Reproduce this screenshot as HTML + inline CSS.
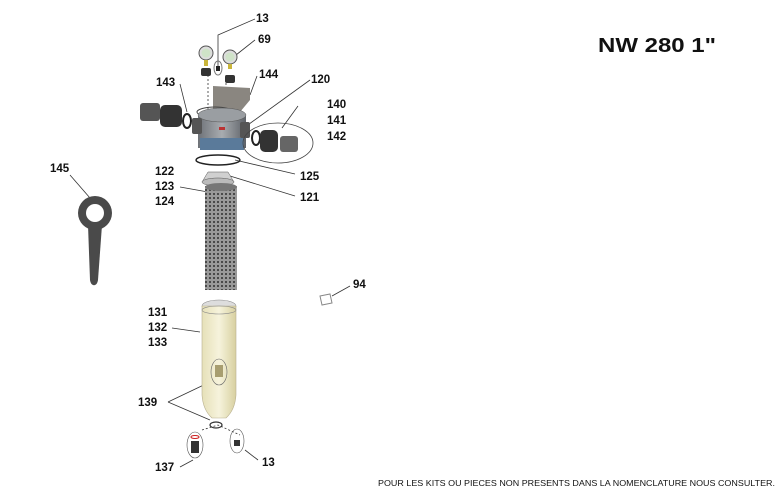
<!DOCTYPE html>
<html><head><meta charset="utf-8"><style>
body{margin:0;background:#fff}
svg{display:block}
text{font-family:"Liberation Sans",sans-serif;font-weight:bold;font-size:11.5px;fill:#111}
</style></head><body>
<svg width="783" height="499" viewBox="0 0 783 499" xmlns="http://www.w3.org/2000/svg">
<defs>
<pattern id="mesh" width="4" height="4" patternUnits="userSpaceOnUse">
<rect width="4" height="4" fill="#9a9a9a"/><rect x="1" y="1" width="2" height="2" fill="#4a4a4a"/>
</pattern>
<linearGradient id="bowl" x1="0" x2="1"><stop offset="0" stop-color="#e6e0b8"/><stop offset=".5" stop-color="#f6f3dc"/><stop offset="1" stop-color="#d8d0a0"/></linearGradient>
<linearGradient id="head" x1="0" x2="1"><stop offset="0" stop-color="#6e7278"/><stop offset=".5" stop-color="#a8acb0"/><stop offset="1" stop-color="#5e6268"/></linearGradient>
</defs>
<text x="598" y="52" style="font-size:20px" textLength="118" lengthAdjust="spacingAndGlyphs">NW 280 1"</text>
<text x="378" y="486" style="font-size:8.5px;font-weight:normal" textLength="397" lengthAdjust="spacingAndGlyphs">POUR LES KITS OU PIECES NON PRESENTS DANS LA NOMENCLATURE NOUS CONSULTER.</text>

<g fill="none" stroke="#333" stroke-width="0.8">
<path d="M255 19 L218 35 L218 70"/>
<path d="M255 40 L236 55"/>
<path d="M257 76 L250 95"/>
<path d="M180 84 L187 112"/>
<path d="M310 80 L245 127"/>
<path d="M298 106 L282 128"/>
<path d="M295 174 L235 160"/>
<path d="M295 196 L230 176"/>
<path d="M180 187 L208 192"/>
<path d="M70 175 L90 198"/>
<path d="M350 286 L332 296"/>
<path d="M172 328 L200 332"/>
<path d="M168 402 L210 382 M168 402 L210 420"/>
<path d="M180 467 L193 460"/>
<path d="M258 460 L245 450"/>
<path d="M202 430 L218 425 L240 435" stroke-dasharray="2,2"/>
<path d="M208 75 L208 110 M226 75 L226 110" stroke-dasharray="2,2"/>
</g>

<circle cx="206" cy="53" r="7" fill="#ddd" stroke="#555"/><circle cx="206" cy="53" r="4.5" fill="#cfe3c8"/>
<circle cx="230" cy="57" r="7" fill="#ddd" stroke="#555"/><circle cx="230" cy="57" r="4.5" fill="#cfe3c8"/>
<rect x="204" y="60" width="4" height="6" fill="#c9b53a"/><rect x="228" y="64" width="4" height="5" fill="#c9b53a"/>
<rect x="201" y="68" width="10" height="8" rx="2" fill="#333"/><rect x="225" y="75" width="10" height="8" rx="2" fill="#333"/>
<ellipse cx="218" cy="68" rx="4" ry="7" fill="none" stroke="#777"/><rect x="216" y="66" width="4" height="5" fill="#222"/>
<path d="M213 86 L250 88 L250 100 L240 112 L213 110 Z" fill="#8a8680"/>
<ellipse cx="215" cy="112" rx="18" ry="5" fill="none" stroke="#444"/>
<rect x="198" y="115" width="48" height="33" fill="url(#head)"/>
<ellipse cx="222" cy="115" rx="24" ry="7" fill="#9a9ea2" stroke="#555" stroke-width=".5"/>
<rect x="200" y="138" width="44" height="12" fill="#5a7a9a"/>
<rect x="192" y="118" width="10" height="16" rx="2" fill="#555"/>
<rect x="240" y="122" width="10" height="16" rx="2" fill="#555"/>
<rect x="219" y="127" width="6" height="3" fill="#b33"/>
<rect x="140" y="103" width="20" height="18" rx="3" fill="#555"/>
<rect x="160" y="105" width="22" height="22" rx="5" fill="#333"/>
<ellipse cx="187" cy="121" rx="4" ry="7" fill="none" stroke="#222" stroke-width="2"/>
<ellipse cx="278" cy="143" rx="35" ry="20" fill="none" stroke="#444" stroke-width=".8"/>
<ellipse cx="256" cy="138" rx="4" ry="7" fill="none" stroke="#222" stroke-width="2"/>
<rect x="260" y="130" width="18" height="22" rx="5" fill="#333"/>
<rect x="280" y="136" width="18" height="16" rx="3" fill="#666"/>
<ellipse cx="218" cy="160" rx="22" ry="5" fill="none" stroke="#222" stroke-width="1.5"/>
<path d="M208 172 L228 172 L234 182 L202 182 Z" fill="#d0d0d0" stroke="#555" stroke-width=".5"/>
<ellipse cx="218" cy="182" rx="16" ry="4" fill="#bbb" stroke="#555" stroke-width=".5"/>
<rect x="205" y="186" width="32" height="104" fill="url(#mesh)"/>
<ellipse cx="221" cy="187" rx="16" ry="4" fill="#777"/>
<!-- wrench -->
<circle cx="95" cy="213" r="17" fill="#4a4a4a"/>
<circle cx="95" cy="213" r="9" fill="#fff"/>
<path d="M88 225 L102 225 L98 280 C97 287 91 287 90 280 Z" fill="#4a4a4a"/>
<path d="M320 296 L330 294 L332 303 L322 305 Z" fill="#fff" stroke="#888"/>
<ellipse cx="219" cy="306" rx="17" ry="6" fill="#ddd" stroke="#888" stroke-width=".6"/>
<path d="M202 306 L202 395 Q203 410 212 418 L226 418 Q235 410 236 395 L236 306 Z" fill="url(#bowl)" stroke="#b8b090" stroke-width=".6"/>
<ellipse cx="219" cy="310" rx="17" ry="4" fill="none" stroke="#888" stroke-width=".6"/>
<ellipse cx="219" cy="372" rx="8" ry="13" fill="none" stroke="#666" stroke-width=".6"/>
<rect x="215" y="365" width="8" height="12" fill="#a89e70"/>
<ellipse cx="216" cy="425" rx="6" ry="3" fill="none" stroke="#333" stroke-width="1.2"/>
<ellipse cx="195" cy="445" rx="8" ry="13" fill="none" stroke="#555" stroke-width=".6"/>
<ellipse cx="195" cy="437" rx="4" ry="1.5" fill="none" stroke="#c22"/>
<rect x="191" y="441" width="8" height="12" fill="#333"/>
<ellipse cx="237" cy="441" rx="7" ry="12" fill="none" stroke="#555" stroke-width=".6"/>
<rect x="234" y="440" width="6" height="6" fill="#333"/>

<text x="256" y="22">13</text>
<text x="258" y="43">69</text>
<text x="259" y="78">144</text>
<text x="156" y="86">143</text>
<text x="311" y="83">120</text>
<text x="327" y="108">140</text>
<text x="327" y="124">141</text>
<text x="327" y="140">142</text>
<text x="155" y="175">122</text>
<text x="155" y="190">123</text>
<text x="155" y="205">124</text>
<text x="300" y="180">125</text>
<text x="300" y="201">121</text>
<text x="50" y="172">145</text>
<text x="353" y="288">94</text>
<text x="148" y="316">131</text>
<text x="148" y="331">132</text>
<text x="148" y="346">133</text>
<text x="138" y="406">139</text>
<text x="155" y="471">137</text>
<text x="262" y="466">13</text>
</svg>
</body></html>
